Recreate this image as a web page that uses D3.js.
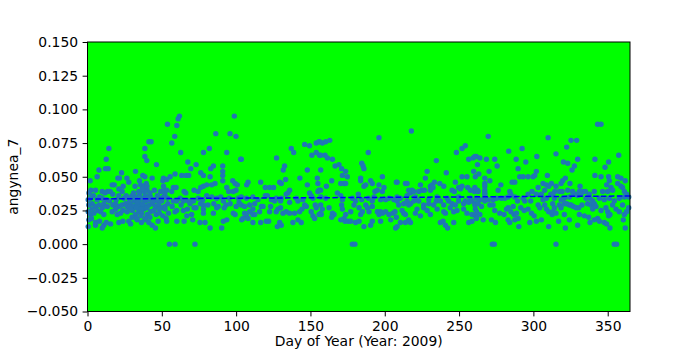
<!DOCTYPE html>
<html lang="en">
<head>
<meta charset="UTF-8">
<title>angynea_7 scatter</title>
<script src="https://d3js.org/d3.v7.min.js"></script>
<style>
    body { margin: 0; background: #fff; }
    svg { display: block; font-family: "DejaVu Sans", sans-serif; }
</style>
</head>
<body>
<div id="chart"></div>
<script>
    // [day of year, value], one array per ~50 day stretch
    const seg1 = [[41.3,.076],[42.8,.076],[14.4,.071],[38.6,.071],[12.6,.063],[38.6,.065],[39.9,.062],[46.4,.059],[7.7,.055],[12.1,.056],[13.9,.056],[32.3,.054],[22.9,.053],[6.5,.050],[20.4,.049],[21.5,.049],[26.5,.049],[27.8,.046],[37.2,.051],[38.6,.050],[43.5,.049],[50.7,.047],[1.8,.047],[16.6,.044],[18.0,.044],[35.7,.044],[37.9,.043],[39.5,.045],[2.3,.040],[5.4,.040],[9.9,.039],[11.7,.038],[13.5,.039],[15.3,.039],[21.1,.041],[23.3,.039],[34.5,.039],[36.8,.040],[38.1,.039],[40.1,.040],[49.1,.039],[51.3,.040],
        [0.5,.033],[2.1,.034],[6.5,.033],[9.9,.034],[12.6,.033],[14.8,.032],[19.3,.033],[24.5,.034],[27.8,.034],[31.2,.032],[32.3,.035],[34.5,.033],[36.8,.034],[39.0,.032],[42.4,.035],[44.6,.033],[46.9,.032],[49.8,.034],[52.0,.037],
        [0.9,.029],[3.2,.030],[5.4,.028],[7.7,.029],[11.0,.030],[13.3,.028],[17.1,.029],[18.9,.030],[21.1,.028],[23.3,.029],[25.6,.030],[26.7,.028],[28.9,.029],[31.2,.028],[33.4,.030],[35.7,.029],[36.8,.027],[39.0,.028],[41.3,.029],[43.5,.030],[45.7,.028],[48.0,.029],[50.2,.027],
        [0.5,.024],[2.1,.022],[4.3,.023],[6.5,.025],[8.8,.024],[11.0,.022],[16.6,.024],[18.9,.026],[20.0,.022],[22.2,.023],[23.8,.025],[26.7,.024],[30.1,.025],[32.3,.022],[34.5,.024],[36.3,.023],[37.9,.026],[40.1,.022],[42.4,.024],[44.6,.025],[46.2,.022],[48.4,.023],[50.7,.021],
        [0.9,.018],[2.7,.019],[5.4,.016],[8.1,.017],[11.0,.014],[12.6,.016],[15.5,.015],[21.1,.016],[23.8,.017],[27.8,.017],[29.0,.015],[33.4,.018],[36.3,.016],[38.6,.018],[41.3,.016],[43.5,.014],[45.7,.012],[47.5,.017],[0.5,.013],[5.4,.014],[9.9,.012],
        [28,.031],[29,.026],[30,.036],[31,.038],[33,.027],[34,.031],[35,.037],[36,.026],[37,.030],[38,.042],[39,.036],[40,.027],[41,.033],[42,.038],[44,.031],[30,.020],[33,.019],[36,.021],[39,.019],[42,.020],[26,.036],[24,.043],[3,.026],[4,.036],[1,.038],[8,.035],[10,.027],[17,.037],[19,.026],[21,.036],[35,.047],[37,.041],[40,.043],[32,.043],[45,.040],[47,.036],[48,.026],[50,.032],[52,.028]];

    const seg2 = [[61.9,.095],[61.0,.093],[98.8,.095],[53.8,.089],[60.1,.088],[58.7,.080],[56.7,.075],[86.3,.082],[95.9,.082],[99.9,.080],[82.0,.071],[78.0,.068],[62.7,.068],[93.7,.068],[103.1,.063],[67.5,.061],[73.1,.059],[69.5,.056],[84.7,.058],[82.9,.056],[91.0,.058],[91.0,.054],[76.2,.053],[78.0,.051],[58.9,.052],[63.4,.051],[66.3,.051],[68.1,.051],[51.1,.049],[55.6,.050],[53.3,.048],[82.5,.050],[85.8,.045],[83.6,.044],[80.2,.044],[78.0,.043],[76.2,.042],[74.4,.039],[91.0,.051],[91.0,.047],[97.7,.047],[99.3,.045],[100.8,.044],[99.9,.040],[98.1,.039],[93.7,.042],[95.0,.039],[51.1,.043],[53.3,.040],[56.7,.039],[57.8,.042],[59.6,.042],[65.0,.039],[66.1,.038],[71.7,.040],
        [51.1,.035],[53.8,.034],[57.8,.032],[60.1,.032],[62.3,.034],[64.5,.032],[67.9,.032],[71.3,.032],[74.6,.034],[77.5,.033],[80.2,.036],[83.6,.035],[86.9,.034],[89.6,.035],[91.4,.032],[95.4,.034],[101.5,.034],
        [52.2,.026],[54.5,.023],[58.9,.024],[64.5,.025],[67.2,.026],[71.7,.027],[70.1,.022],[66.8,.021],[70.8,.018],[78.0,.029],[78.0,.026],[78.0,.023],[84.7,.023],[86.9,.027],[93.2,.029],[98.1,.023],[99.3,.022],[103.7,.018],[52.9,.019],[53.3,.017],[60.1,.017],[65.0,.017],[75.7,.016],[79.1,.016],[82.5,.012],[90.3,.012],[91.4,.017],[93.7,.018],
        [55.1,0],[58.9,0],[72.3,0],
        [54,.030],[57,.028],[60,.025],[63,.029],[69,.030],[73,.027],[76,.030],[81,.029],[85,.030],[88,.028],[92,.027],[96,.030],[100,.028],[102,.031]];

    const seg3 = [[103.5,.063],[127.2,.064],[137.1,.071],[138.7,.068],[146.1,.074],[149.4,.073],[153.9,.075],[156.1,.076],[151.0,.066],[153.9,.068],[156.1,.066],[132.6,.058],[131.7,.055],[147.9,.055],[108.0,.046],[107.1,.044],[116.5,.046],[119.6,.042],[122.5,.042],[125.2,.042],[129.3,.046],[130.4,.045],[133.3,.048],[142.9,.049],[147.9,.044],[154.6,.049],[155.0,.045],[134.9,.038],[136.0,.040],[133.7,.037],[149.4,.038],[150.5,.036],[155.0,.039],[156.8,.040],[119.6,.036],[121.0,.036],
        [103.5,.035],[106.9,.034],[111.3,.035],[114.7,.033],[123.7,.033],[127.0,.034],[130.4,.034],[140.5,.034],[144.9,.033],[151.7,.034],[103.5,.029],[105.7,.028],[109.1,.029],[112.5,.030],[116.9,.028],[123.2,.028],[125.9,.032],[129.9,.032],[136.0,.031],[141.6,.032],[146.1,.029],[153.2,.029],
        [105.7,.023],[106.9,.021],[109.1,.024],[111.3,.026],[111.3,.022],[112.5,.022],[115.8,.024],[118.1,.028],[122.5,.024],[127.0,.024],[128.1,.026],[129.9,.027],[131.5,.023],[133.7,.024],[136.0,.023],[139.3,.023],[142.7,.024],[144.3,.026],[147.2,.028],[150.5,.024],[153.9,.027],
        [104.6,.019],[108.0,.019],[111.3,.016],[116.5,.016],[120.3,.017],[121.9,.017],[129.3,.016],[127.7,.013],[130.4,.014],[138.2,.016],[141.6,.018],[143.8,.016],[151.7,.021],[152.8,.019],[157.3,.022]];

    const seg4 = [[155.8,.076],[158.0,.075],[160.3,.076],[163.0,.077],[196.1,.079],[188.9,.068],[156.9,.066],[159.8,.066],[161.4,.064],[164.8,.063],[184.5,.060],[185.4,.058],[186.0,.056],[166.6,.058],[169.2,.059],[171.0,.056],[156.9,.055],[173.7,.054],[174.8,.050],[171.5,.051],[183.8,.049],[183.8,.047],[164.3,.047],[170.4,.045],[172.6,.045],[173.7,.045],[190.5,.047],[191.6,.045],[198.4,.050],[207.8,.046],[160.7,.043],[186.0,.043],[187.2,.044],[196.1,.044],[199.5,.042],[198.4,.039],[193.4,.039],[195.0,.040],[155.8,.040],
        [156.9,.035],[160.3,.034],[168.1,.038],[170.4,.036],[171.5,.033],[178.2,.034],[180.4,.032],[182.2,.037],[184.5,.033],[188.9,.034],[191.6,.032],[192.8,.035],[197.2,.033],[200.6,.033],[202.8,.034],[206.2,.033],[208.4,.034],
        [156.9,.029],[158.0,.026],[156.9,.023],[162.5,.027],[164.8,.023],[165.9,.022],[171.0,.029],[171.5,.026],[172.6,.019],[173.7,.022],[177.1,.024],[175.5,.017],[173.3,.017],[179.3,.029],[182.7,.027],[183.8,.022],[184.9,.024],[187.2,.029],[188.3,.027],[189.4,.024],[191.6,.028],[191.6,.017],[195.0,.024],[196.1,.022],[197.2,.024],[198.4,.023],[200.6,.024],[202.8,.022],[204.0,.018],[205.5,.023],[206.9,.024],[207.8,.020],
        [180.4,.016],[182.7,.017],[186.0,.013],[190.5,.014],[197.2,.017],[207.3,.012],[155.8,.022],[164.3,.020],[170.4,.018],[177.1,.017],
        [178.2,0],[179.9,0]];

    const seg5 = [[217.9,.084],[248.2,.068],[252.0,.071],[254.2,.073],[256.5,.063],[259.4,.064],[261.6,.065],[234.7,.062],[241.4,.053],[228.5,.054],[252.0,.050],[255.3,.050],[259.8,.054],[260.9,.050],[208.3,.046],[213.9,.045],[215.0,.045],[224.0,.044],[227.3,.049],[230.7,.043],[231.8,.044],[233.4,.046],[237.0,.045],[239.7,.043],[247.5,.046],[249.7,.042],[252.0,.043],[255.8,.042],[216.1,.040],[218.4,.040],[217.3,.038],[219.5,.039],[222.9,.039],[225.1,.040],[226.7,.040],[230.7,.040],[232.5,.042],[245.3,.040],[246.8,.039],[250.9,.041],[257.6,.040],[260.3,.039],
        [208.3,.035],[210.5,.034],[215.0,.036],[220.6,.035],[221.7,.033],[229.6,.033],[235.2,.035],[241.9,.034],[249.7,.035],[254.2,.032],[257.6,.034],
        [208.3,.032],[209.4,.029],[212.8,.030],[215.0,.032],[216.1,.029],[217.3,.030],[219.5,.032],[222.9,.032],[226.2,.029],[229.6,.030],[232.9,.029],[234.7,.032],[237.4,.032],[239.7,.029],[243.0,.032],[245.3,.030],[247.5,.029],[249.7,.032],[253.1,.030],[256.5,.031],[258.7,.032],[260.9,.030],
        [211.7,.025],[212.8,.023],[213.9,.022],[221.7,.026],[220.6,.023],[226.2,.027],[228.5,.025],[230.7,.022],[235.2,.026],[239.7,.024],[240.8,.023],[244.1,.027],[246.4,.024],[248.6,.025],[253.1,.026],[255.3,.023],[258.7,.022],[260.9,.026],
        [210.5,.016],[216.1,.018],[217.3,.016],[224.0,.021],[237.4,.016],[239.2,.017],[240.8,.014],[242.3,.012],[246.4,.016],[256.5,.016],[258.7,.017],[260.9,.021],[208.3,.013],[213.9,.016]];

    const seg6 = [[269.6,.080],[309.9,.079],[292.4,.071],[283.4,.069],[302.3,.065],[288.4,.063],[294.9,.061],[260.6,.065],[264.0,.064],[268.4,.063],[274.0,.063],[275.6,.058],[262.4,.059],[270.2,.054],[289.7,.056],[263.3,.052],[290.8,.050],[293.1,.050],[296.4,.050],[299.8,.050],[302.0,.054],[300.9,.051],[309.4,.051],[270.7,.047],[267.3,.049],[285.7,.046],[287.5,.046],[278.1,.044],[276.3,.040],
        [267.3,.045],[267.3,.043],[267.3,.040],[267.3,.038],[267.3,.037],[267.3,.034],[267.3,.032],
        [260.6,.042],[262.4,.040],[262.8,.039],[303.2,.042],[306.5,.045],[308.8,.044],[310.3,.043],[312.1,.045],[307.6,.040],[284.1,.039],[284.8,.037],[287.5,.035],[296.4,.037],[299.1,.039],[302.0,.037],[305.4,.037],[311.7,.037],[314.4,.039],
        [261.7,.034],[264.0,.033],[269.6,.033],[272.9,.033],[275.2,.034],[278.5,.034],[280.8,.034],[283.0,.035],[289.3,.032],[293.1,.034],[294.2,.032],[298.2,.032],[306.5,.033],[308.8,.034],
        [260.6,.029],[262.8,.030],[265.1,.028],[261.7,.024],[264.0,.022],[261.7,.019],[266.2,.018],[270.7,.029],[272.9,.029],[274.0,.025],[277.4,.023],[280.3,.022],[281.9,.026],[283.0,.027],[284.8,.024],[286.4,.028],[287.0,.022],[288.6,.023],[291.5,.027],[293.8,.025],[296.4,.026],[298.7,.023],[300.5,.021],[303.2,.029],[304.3,.027],[307.6,.029],[308.8,.026],[310.3,.024],[312.6,.022],[313.2,.024],
        [271.8,.018],[274.5,.016],[283.0,.018],[284.1,.016],[287.5,.018],[289.7,.019],[290.2,.013],[297.6,.016],[302.0,.017],[305.4,.018],[310.3,.013],
        [272.4,0],[273.7,0]];

    const seg7 = [[343.2,.089],[345.5,.089],[325.3,.077],[329.1,.077],[322.4,.072],[315.2,.067],[357.4,.066],[341.4,.063],[329.8,.063],[320.2,.061],[323.1,.060],[350.6,.061],[327.6,.058],[326.0,.055],[348.2,.057],[341.4,.051],[345.5,.050],[350.6,.050],[351.1,.047],[356.7,.050],[358.9,.049],[361.8,.047],[321.5,.049],[319.7,.047],[318.6,.045],[324.6,.045],[315.2,.043],[331.4,.043],[349.3,.044],[352.2,.042],[353.3,.040],[356.7,.045],[358.9,.043],[360.0,.042],[361.2,.039],[362.7,.037],[317.5,.039],[319.3,.039],[323.1,.040],[326.4,.039],[328.2,.037],[330.9,.039],[333.2,.039],[335.0,.039],[337.6,.037],[341.0,.039],[346.6,.039],[350.0,.039],
        [313.0,.037],[314.1,.034],[318.6,.033],[320.8,.034],[324.2,.035],[326.9,.037],[329.8,.036],[332.0,.037],[335.4,.034],[338.1,.034],[339.9,.032],[344.4,.034],[347.7,.033],[351.1,.034],[354.4,.032],[357.8,.034],[361.2,.035],[364.1,.035],
        [313.0,.030],[314.1,.027],[315.2,.023],[317.5,.029],[318.6,.027],[320.8,.030],[322.4,.030],[324.2,.029],[325.3,.029],[326.9,.028],[328.7,.027],[330.5,.027],[332.7,.029],[336.5,.030],[338.8,.029],[339.9,.026],[341.0,.030],[342.1,.028],[345.5,.025],[348.8,.027],[350.0,.024],[350.6,.021],[351.5,.022],[353.3,.029],[355.6,.026],[357.8,.024],[360.0,.029],[361.2,.022],[362.7,.024],[364.1,.027],
        [317.0,.017],[320.8,.022],[324.2,.018],[321.5,.012],[329.8,.014],[330.9,.022],[334.3,.021],[337.2,.020],[338.1,.016],[341.0,.018],[343.2,.019],[344.4,.017],[347.7,.016],[349.3,.015],[351.5,.012],[360.5,.018],[361.8,.012],
        [315.2,0],[354.4,0],[356.0,0]];

    // dashed fit line, end values
    const trendDays = [0, 365];
    const trendValues = [0.0335, 0.0357];

    const xTicks = [0, 50, 100, 150, 200, 250, 300, 350];
    const yTicks = [-0.05, -0.025, 0, 0.025, 0.05, 0.075, 0.1, 0.125, 0.15];

    const points = [].concat(seg1, seg2, seg3, seg4, seg5, seg6, seg7);

    const width = 700, height = 350;
    const margin = {top: 42, right: 70, bottom: 38.5, left: 87.5};

    const svg = d3.select("#chart").append("svg")
        .attr("width", width)
        .attr("height", height);

    const x = d3.scaleLinear().domain([0, 365]).range([margin.left, width - margin.right]);
    const y = d3.scaleLinear().domain([-0.05, 0.15]).range([height - margin.bottom, margin.top]);

    // plot background
    svg.append("rect")
        .attr("x", x(0)).attr("y", y(0.15))
        .attr("width", x(365) - x(0)).attr("height", y(-0.05) - y(0.15))
        .attr("fill", "#00ff00");

    svg.append("g")
        .selectAll("circle")
        .data(points)
        .join("circle")
        .attr("cx", d => x(d[0]))
        .attr("cy", d => y(d[1]))
        .attr("r", 2.7)
        .attr("fill", "#1f77b4");

    const line = d3.line().x(d => x(d[0])).y(d => y(d[1]));
    svg.append("path")
        .attr("d", line(d3.zip(trendDays, trendValues)))
        .attr("fill", "none")
        .attr("stroke", "#0000ff")
        .attr("stroke-width", 1.5)
        .attr("stroke-dasharray", "5.5,2.4");

    // frame
    svg.append("rect")
        .attr("x", x(0)).attr("y", y(0.15))
        .attr("width", x(365) - x(0)).attr("height", y(-0.05) - y(0.15))
        .attr("fill", "none")
        .attr("stroke", "#000")
        .attr("stroke-width", 1);

    const xAxis = svg.append("g")
        .attr("transform", `translate(0,${height - margin.bottom})`)
        .call(d3.axisBottom(x).tickValues(xTicks).tickSize(4.9).tickPadding(4.5));
    const yAxis = svg.append("g")
        .attr("transform", `translate(${margin.left},0)`)
        .call(d3.axisLeft(y).tickValues(yTicks).tickFormat(d3.format(".3f")).tickSize(4.9).tickPadding(4.5));

    [xAxis, yAxis].forEach(g => {
        g.select(".domain").remove();
        g.selectAll("text").attr("font-size", "13.9px").attr("font-family", "DejaVu Sans").attr("fill", "#000");
        g.selectAll("line").attr("stroke", "#000");
    });

    svg.append("text")
        .attr("x", (x(0) + x(365)) / 2)
        .attr("y", 346)
        .attr("text-anchor", "middle")
        .attr("font-size", "13.9px")
        .text("Day of Year (Year: 2009)");

    svg.append("text")
        .attr("transform", `translate(18,${(y(0.15) + y(-0.05)) / 2}) rotate(-90)`)
        .attr("text-anchor", "middle")
        .attr("font-size", "13.9px")
        .text("angynea_7");
</script>
</body>
</html>
